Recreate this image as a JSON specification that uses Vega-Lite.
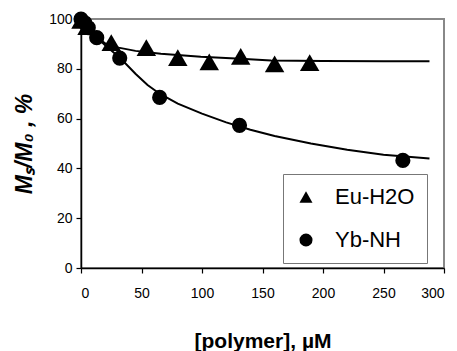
{
  "$schema": "https://vega.github.io/schema/vega-lite/v6.json",
  "width": 363,
  "height": 249,
  "autosize": "none",
  "padding": {"left": 81, "top": 19, "right": 13, "bottom": 83},
  "background": "white",
  "config": {
    "view": {"stroke": "#888888", "strokeWidth": 2},
    "font": "Liberation Sans"
  },
  "datasets": {
    "pts": [
      {"series": "Eu-H2O", "x": 0, "y": 99.5},
      {"series": "Eu-H2O", "x": 5, "y": 97},
      {"series": "Eu-H2O", "x": 25, "y": 90.5},
      {"series": "Eu-H2O", "x": 54, "y": 88.5},
      {"series": "Eu-H2O", "x": 80, "y": 84.5},
      {"series": "Eu-H2O", "x": 106, "y": 82.8},
      {"series": "Eu-H2O", "x": 132, "y": 85},
      {"series": "Eu-H2O", "x": 160, "y": 82},
      {"series": "Eu-H2O", "x": 189, "y": 82.5},
      {"series": "Yb-NH", "x": 0, "y": 100},
      {"series": "Yb-NH", "x": 3, "y": 98.5},
      {"series": "Yb-NH", "x": 6, "y": 96.5},
      {"series": "Yb-NH", "x": 13, "y": 92.5},
      {"series": "Yb-NH", "x": 32, "y": 84.3},
      {"series": "Yb-NH", "x": 65, "y": 68.5},
      {"series": "Yb-NH", "x": 131, "y": 57.3},
      {"series": "Yb-NH", "x": 266, "y": 43.2}
    ],
    "fit": [
      {"series": "Eu-H2O", "x": 0, "y": 100},
      {"series": "Eu-H2O", "x": 5, "y": 96.5},
      {"series": "Eu-H2O", "x": 10, "y": 93.5},
      {"series": "Eu-H2O", "x": 20, "y": 90.2},
      {"series": "Eu-H2O", "x": 31, "y": 88.5},
      {"series": "Eu-H2O", "x": 45, "y": 87.2},
      {"series": "Eu-H2O", "x": 66, "y": 86},
      {"series": "Eu-H2O", "x": 99, "y": 84.8},
      {"series": "Eu-H2O", "x": 132, "y": 84},
      {"series": "Eu-H2O", "x": 157, "y": 83.3},
      {"series": "Eu-H2O", "x": 200, "y": 83.1},
      {"series": "Eu-H2O", "x": 250, "y": 83},
      {"series": "Eu-H2O", "x": 288, "y": 83},
      {"series": "Yb-NH", "x": 0, "y": 100},
      {"series": "Yb-NH", "x": 10, "y": 94},
      {"series": "Yb-NH", "x": 20, "y": 89.5},
      {"series": "Yb-NH", "x": 33, "y": 84},
      {"series": "Yb-NH", "x": 45, "y": 78},
      {"series": "Yb-NH", "x": 55, "y": 73.5},
      {"series": "Yb-NH", "x": 65, "y": 70},
      {"series": "Yb-NH", "x": 80, "y": 66},
      {"series": "Yb-NH", "x": 100, "y": 62},
      {"series": "Yb-NH", "x": 120, "y": 58.5},
      {"series": "Yb-NH", "x": 140, "y": 55.5},
      {"series": "Yb-NH", "x": 160, "y": 53},
      {"series": "Yb-NH", "x": 190, "y": 50},
      {"series": "Yb-NH", "x": 220, "y": 47.5},
      {"series": "Yb-NH", "x": 250, "y": 45.5},
      {"series": "Yb-NH", "x": 288, "y": 44}
    ]
  },
  "encoding": {
    "x": {
      "field": "x", "type": "quantitative",
      "scale": {"domain": [0, 300], "nice": false},
      "axis": {
        "values": [0, 50, 100, 150, 200, 250, 300],
        "title": "[polymer], µM",
        "titleFontSize": 21, "titleFontWeight": "bold", "titleColor": "black",
        "titlePadding": 30,
        "labelFontSize": 14, "labelColor": "black", "labelPadding": 13,
        "domainColor": "black", "domainWidth": 1.5,
        "tickColor": "black", "tickSize": 5, "tickWidth": 1.2,
        "grid": false
      }
    },
    "y": {
      "field": "y", "type": "quantitative",
      "scale": {"domain": [0, 100], "nice": false},
      "axis": {
        "values": [0, 20, 40, 60, 80, 100],
        "title": "Mₛ/M₀ , %",
        "titleFontSize": 23, "titleFontWeight": "bold", "titleFontStyle": "italic", "titleColor": "black",
        "titlePadding": 12,
        "labelFontSize": 14, "labelColor": "black", "labelPadding": 4,
        "domainColor": "black", "domainWidth": 1.5,
        "tickColor": "black", "tickSize": 5, "tickWidth": 1.2,
        "grid": false
      }
    }
  },
  "layer": [
    {
      "data": {"name": "fit"},
      "mark": {"type": "line", "color": "black", "strokeWidth": 2},
      "encoding": {"detail": {"field": "series"}}
    },
    {
      "data": {"name": "pts"},
      "mark": {"type": "point", "filled": true, "color": "black", "opacity": 1},
      "encoding": {
        "shape": {
          "field": "series", "type": "nominal",
          "scale": {"domain": ["Eu-H2O", "Yb-NH"], "range": ["triangle-up", "circle"]},
          "legend": {
            "title": null,
            "orient": "none",
            "legendX": 202,
            "legendY": 155,
            "padding": 12,
            "strokeColor": "#777777",
            "fillColor": "white",
            "labelFontSize": 22,
            "labelColor": "black",
            "labelOffset": 18,
            "rowPadding": 21,
            "symbolSize": 170,
            "symbolFillColor": "black",
            "symbolStrokeColor": "black",
            "symbolStrokeWidth": 0
          }
        },
        "size": {"condition": {"test": "datum.series === 'Eu-H2O'", "value": 380}, "value": 230}
      }
    }
  ]
}
